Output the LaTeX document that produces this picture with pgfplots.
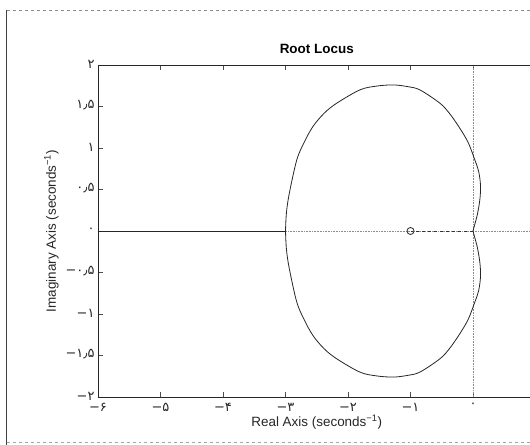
\documentclass[border=0pt]{standalone}
\usepackage{fontspec}
\setmainfont{Liberation Sans}
\newfontfamily\fa{DejaVu Sans}
\usepackage{pgfplots}
\pgfplotsset{compat=1.18}
\begin{document}
\begin{tikzpicture}[x=1bp,y=1bp]
\begin{axis}[
  at={(0,0)}, anchor=south west,
  scale only axis, width=437.5bp, height=332bp,
  xmin=-6, xmax=1, ymin=-2, ymax=2,
  axis line style={black!85, line width=0.9bp},
  tick align=inside, major tick length=5bp,
  tick style={black!70, line width=0.5bp},
  xtick={-6,-5,-4,-3,-2,-1,0},
  xticklabels={{\fa −۶},{\fa −۵},{\fa −۴},{\fa −۳},{\fa −۲},{\fa −۱},{\fa ۰}},
  ytick={-2,-1.5,-1,-0.5,0,0.5,1,1.5,2},
  yticklabels={{\fa −۲},{\fa −۱٫۵},{\fa −۱},{\fa −۰٫۵},{\fa ۰},{\fa ۰٫۵},{\fa ۱},{\fa ۱٫۵},{\fa ۲}},
  ticklabel style={font=\fontsize{13}{15}\selectfont, black!85},
  xticklabel style={yshift=-3bp},
  yticklabel style={yshift=1bp},
  title={Root Locus},
  title style={font=\bfseries\fontsize{13.5}{15}\selectfont, yshift=2bp},
  xlabel={Real Axis (seconds\textsuperscript{−1})},
  ylabel={Imaginary Axis (seconds\textsuperscript{−1})},
  label style={font=\fontsize{13.5}{15}\selectfont, black!85},
  xlabel style={yshift=4bp},
  clip=true,
]
% axis lines (dotted gray)
\addplot[black!45, densely dotted, line width=0.6bp] coordinates {(-6,0) (1,0)};
\addplot[black!45, densely dotted, line width=0.6bp] coordinates {(0,-2) (0,2)};
% real-axis locus segments
\addplot[black!85, line width=0.8bp] coordinates {(-6,0) (-3,0)};
\addplot[black!80, dashed, line width=0.8bp] coordinates {(-1,0) (0,0)};
% upper branch
\addplot[black!85, line width=0.8bp, smooth, tension=0.55] coordinates {
 (-3,0) (-2.985,0.22) (-2.94,0.45) (-2.82,0.855) (-2.70,1.07) (-2.56,1.26)
 (-2.38,1.42) (-2.18,1.54) (-1.81,1.70) (-1.55,1.745) (-1.28,1.76) (-1.05,1.74)
 (-0.85,1.70) (-0.53,1.54) (-0.38,1.42) (-0.23,1.26) (-0.08,1.07) (0.03,0.855)
 (0.09,0.72) (0.12,0.55) (0.11,0.38) (0.07,0.20) (0.025,0.07) (0,0)};
% lower branch
\addplot[black!85, line width=0.8bp, smooth, tension=0.55] coordinates {
 (-3,0) (-2.985,-0.22) (-2.94,-0.45) (-2.82,-0.855) (-2.70,-1.07) (-2.56,-1.26)
 (-2.38,-1.42) (-2.18,-1.54) (-1.81,-1.70) (-1.55,-1.745) (-1.28,-1.76) (-1.05,-1.74)
 (-0.85,-1.70) (-0.53,-1.54) (-0.38,-1.42) (-0.23,-1.26) (-0.08,-1.07) (0.03,-0.855)
 (0.09,-0.72) (0.12,-0.55) (0.11,-0.38) (0.07,-0.20) (0.025,-0.07) (0,0)};
% zero
\addplot[only marks, mark=o, mark size=3.5bp, black!85, mark options={line width=0.8bp}] coordinates {(-1,0)};
\end{axis}
% scan frame
\draw[black!75, line width=1bp] (-91,-48) -- (-91,387);
\draw[black!45, dashed, line width=0.8bp] (-91,387) -- (432,387);
\draw[black!35, dashed, line width=0.8bp] (-91,-45) -- (432,-45);
\pgfresetboundingbox
\path[use as bounding box] (-98,-48) rectangle (432,397);
\end{tikzpicture}
\end{document}
